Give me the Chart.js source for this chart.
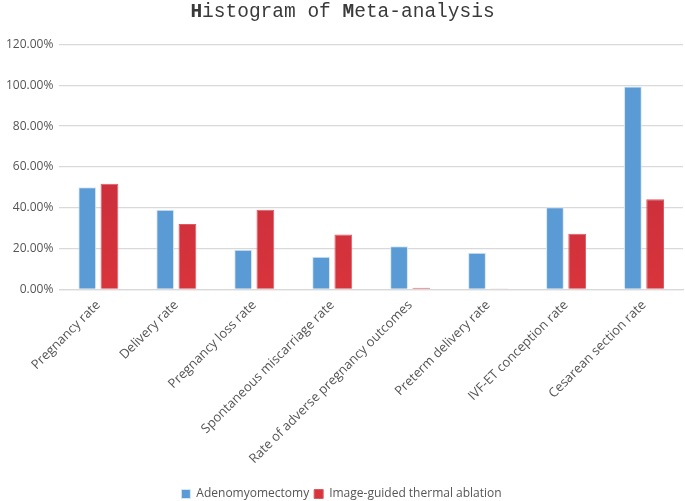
<!DOCTYPE html>
<html>
<head>
<meta charset="utf-8">
<script src="https://cdn.jsdelivr.net/npm/chart.js@4"></script>
<style>
    html, body { margin: 0; padding: 0; background: #fff; }
    #wrap { width: 685px; height: 501px; }
</style>
</head>
<body>
<div id="wrap"><canvas id="metaChart"></canvas></div>
<script>
const categories = ['Pregnancy rate', 'Delivery rate', 'Pregnancy loss rate', 'Spontaneous miscarriage rate',
    'Rate of adverse pregnancy outcomes', 'Preterm delivery rate', 'IVF-ET conception rate', 'Cesarean section rate'];
const adenomyomectomy = [50.0, 39.0, 19.4, 16.0, 21.2, 18.0, 40.2, 99.4];
const thermalAblation = [51.8, 32.0, 39.0, 26.9, 0.8, 0.5, 27.3, 44.2];
const yTicks = [0, 20, 40, 60, 80, 100, 120];
const titleParts = [['H', 'bold'], ['istogram of ', 'normal'], ['M', 'bold'], ['eta-analysis', 'normal']];

// red bars have a slight vertical shade
function redGradient(context) {
    const chart = context.chart;
    const area = chart.chartArea;
    if (!area) return '#c8303c';
    const g = chart.ctx.createLinearGradient(0, area.top, 0, area.bottom);
    g.addColorStop(0, '#bc2a3a');
    g.addColorStop(1, '#d8343c');
    return g;
}

// title with bold first letters, drawn in the space the built-in title reserves
const mixedTitle = {
    id: 'mixedTitle',
    afterDraw(chart) {
        const c = chart.ctx;
        const size = 19.5;
        c.save();
        c.textBaseline = 'middle';
        c.fillStyle = '#3a3a3a';
        let total = 0;
        titleParts.forEach(([t, w]) => {
            c.font = w + ' ' + size + 'px "Liberation Mono"';
            total += c.measureText(t).width;
        });
        let x = chart.width / 2 - total / 2;
        const t = chart.titleBlock;
        const y = t.top + t.options.padding.top + size * 0.6;
        titleParts.forEach(([txt, w]) => {
            c.font = w + ' ' + size + 'px "Liberation Mono"';
            c.fillText(txt, x, y);
            x += c.measureText(txt).width;
        });
        c.restore();
    }
};

const ctx = document.getElementById('metaChart');
new Chart(ctx, {
    type: 'bar',
    data: {
        labels: categories,
        datasets: [{
            label: 'Adenomyomectomy',
            data: adenomyomectomy,
            backgroundColor: '#5b9bd5',
            borderColor: '#d6e6f5',
            borderWidth: 1,
            barPercentage: 0.8,
            categoryPercentage: 0.57
        }, {
            label: 'Image-guided thermal ablation',
            data: thermalAblation,
            backgroundColor: redGradient,
            borderColor: '#dc5a64',
            borderWidth: 1,
            barPercentage: 0.8,
            categoryPercentage: 0.57
        }]
    },
    options: {
        responsive: true,
        maintainAspectRatio: false,
        animation: false,
        layout: {
            padding: { left: 0, right: 2, top: 0, bottom: -9 }
        },
        plugins: {
            title: {
                display: true,
                text: 'Histogram of Meta-analysis',
                color: 'rgba(0,0,0,0)',
                font: { family: 'Liberation Mono', size: 19.5, weight: 'normal' },
                padding: { top: 0, bottom: 21 }
            },
            legend: {
                position: 'bottom',
                labels: {
                    color: '#555555',
                    font: { family: 'Open Sans', size: 12 },
                    boxWidth: 9,
                    boxHeight: 9,
                    padding: 5
                }
            },
            tooltip: { enabled: false }
        },
        scales: {
            x: {
                afterFit: (axis) => { axis.height += 8; },
                grid: { display: false, drawTicks: false },
                border: { color: '#d9d9d9', width: 1.3 },
                ticks: {
                    color: '#555555',
                    font: { family: 'Open Sans', size: 13 },
                    maxRotation: 45,
                    minRotation: 45,
                    autoSkip: false,
                    padding: 8
                }
            },
            y: {
                min: 0,
                max: 120,
                afterBuildTicks: (axis) => {
                    axis.ticks = yTicks.map(v => ({ value: v }));
                },
                grid: { color: '#d9d9d9', lineWidth: 1.3, drawTicks: false },
                border: { display: false },
                ticks: {
                    color: '#555555',
                    font: { family: 'Open Sans', size: 12 },
                    padding: 6,
                    callback: (value) => value.toFixed(2) + '%'
                }
            }
        }
    },
    plugins: [mixedTitle]
});
</script>
</body>
</html>
